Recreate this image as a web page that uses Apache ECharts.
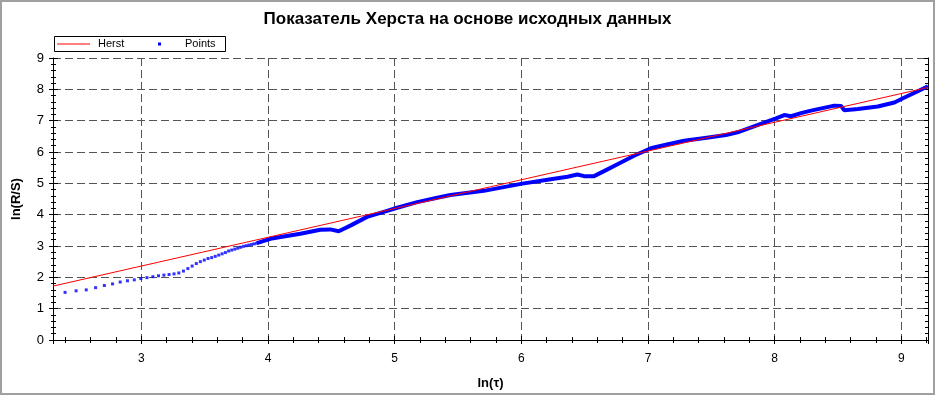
<!DOCTYPE html>
<html><head><meta charset="utf-8">
<script src="https://cdn.jsdelivr.net/npm/echarts@6/dist/echarts.min.js"></script>
<style>html,body{margin:0;padding:0;background:#fff}#c{width:935px;height:395px}</style>
</head><body><div id="c"></div>
<script>
const titleText = 'Показатель Херста на основе исходных данных';
const xName = 'ln(τ)';
const yName = 'ln(R/S)';
const legendNames = ['Herst', 'Points'];
const xMin = 2.3026, xMax = 9.2103;
const yMin = 0, yMax = 9;

// Herst regression line (ln τ, ln R/S)
const herstX = [2.3026, 9.2103];
const herstY = [1.72, 8.06];

// individual visible points (τ and ln(R/S))
const pointTau = [11,12,13,14,15,16,17,18,19,20,21,22,23,24,25,26,27,28,29,30,
                  31,32,33,34,35,36,37,38,39,40,41,42,43,44,45,46,47,48,49,50];
const pointVal = [1.52,1.57,1.60,1.67,1.74,1.79,1.85,1.89,1.92,1.96,1.99,2.02,2.05,2.07,2.09,2.11,2.14,2.20,2.28,2.36,
                  2.44,2.50,2.55,2.60,2.63,2.67,2.71,2.75,2.79,2.84,2.87,2.90,2.93,2.96,2.99,3.01,3.03,3.05,3.07,3.09];

// dense part of the points where they merge into a band (ln τ, ln R/S)
const bandLn  = [3.912,4.018,4.10,4.255,4.413,4.492,4.558,4.650,4.782,4.914,5.020,5.178,5.336,5.441,5.704,5.85,6.008,6.232,6.364,6.443,6.495,6.574,6.653,6.759,6.890,7.022,7.15,7.285,7.45,7.615,7.707,8.010,8.076,8.129,8.208,8.287,8.471,8.524,8.550,8.656,8.814,8.945,9.025,9.130,9.210];
const bandVal = [3.09,3.23,3.29,3.39,3.52,3.53,3.47,3.65,3.93,4.09,4.22,4.40,4.54,4.63,4.76,4.87,4.99,5.13,5.21,5.28,5.23,5.23,5.39,5.61,5.88,6.12,6.24,6.36,6.45,6.54,6.63,7.07,7.18,7.14,7.24,7.32,7.48,7.47,7.33,7.37,7.45,7.58,7.74,7.94,8.10];

const FONT = '"Liberation Sans", Arial, sans-serif';
const RED = '#ff0000', BLUE = '#0000ff';
const herstData = herstX.map((x, i) => [x, herstY[i]]);
const pointData = pointTau.map((t, i) => [Math.log(t), pointVal[i]]);
const bandData = bandLn.map((x, i) => [x, bandVal[i]]);
const intLabel = v => (Math.abs(v - Math.round(v)) < 1e-6 ? String(Math.round(v)) : '');

const gridRect = { left: 53, right: 7, top: 58, bottom: 55 };
const split = { show: true, lineStyle: { color: '#555', type: [8, 4], width: 1 } };
const legendText = { fontFamily: FONT, fontSize: 11, fill: '#000', verticalAlign: 'middle' };

const chart = echarts.init(document.getElementById('c'), null, { renderer: 'canvas' });
chart.setOption({
  animation: false,
  backgroundColor: '#fff',
  title: { text: titleText, left: 'center', top: 6,
    textStyle: { fontFamily: FONT, fontSize: 17, fontWeight: 'bold', color: '#000' } },
  grid: [
    Object.assign({ containLabel: false }, gridRect),
    Object.assign({ containLabel: false }, gridRect)
  ],
  xAxis: [
    { type: 'value', gridIndex: 0, position: 'bottom', min: xMin, max: xMax,
      name: xName, nameLocation: 'middle', nameGap: 37,
      nameTextStyle: { fontFamily: FONT, fontSize: 13, fontWeight: 'bold', color: '#000' },
      axisLine: { show: true, lineStyle: { color: '#000', width: 1 } },
      axisTick: { show: true, inside: false, length: 4, lineStyle: { color: '#000' } },
      minorTick: { show: true, splitNumber: 5, length: 2, lineStyle: { color: '#000' } },
      axisLabel: { show: true, margin: 13, fontFamily: FONT, fontSize: 12, color: '#000', formatter: intLabel },
      splitLine: split, minorSplitLine: { show: false } },
    { type: 'value', gridIndex: 0, position: 'top', min: xMin, max: xMax,
      axisLine: { show: true, lineStyle: { color: '#000', width: 1 } },
      axisTick: { show: true, inside: true, length: 4, lineStyle: { color: '#000' } },
      minorTick: { show: true, splitNumber: 5, length: 3, lineStyle: { color: '#000' } },
      axisLabel: { show: false }, splitLine: { show: false } },
    { type: 'value', gridIndex: 1, position: 'bottom', min: xMin, max: xMax,
      axisLine: { show: false },
      axisTick: { show: true, inside: true, length: 4, lineStyle: { color: '#000' } },
      minorTick: { show: true, splitNumber: 5, length: 3, lineStyle: { color: '#000' } },
      axisLabel: { show: false }, splitLine: { show: false } }
  ],
  yAxis: [
    { type: 'value', gridIndex: 0, position: 'left', min: yMin, max: yMax, interval: 1,
      name: yName, nameLocation: 'middle', nameGap: 30,
      nameTextStyle: { fontFamily: FONT, fontSize: 13, fontWeight: 'bold', color: '#000' },
      axisLine: { show: true, lineStyle: { color: '#000', width: 1 } },
      axisTick: { show: true, inside: false, length: 4, lineStyle: { color: '#000' } },
      minorTick: { show: true, splitNumber: 5, length: 2, lineStyle: { color: '#000' } },
      axisLabel: { show: true, margin: 9, fontFamily: FONT, fontSize: 13, color: '#000' },
      splitLine: split },
    { type: 'value', gridIndex: 0, position: 'right', min: yMin, max: yMax, interval: 1,
      axisLine: { show: true, lineStyle: { color: '#000', width: 1 } },
      axisTick: { show: true, inside: true, length: 4, lineStyle: { color: '#000' } },
      minorTick: { show: true, splitNumber: 5, length: 3, lineStyle: { color: '#000' } },
      axisLabel: { show: false }, splitLine: { show: false } },
    { type: 'value', gridIndex: 1, position: 'left', min: yMin, max: yMax, interval: 1,
      axisLine: { show: false },
      axisTick: { show: true, inside: true, length: 5, lineStyle: { color: '#000' } },
      minorTick: { show: true, splitNumber: 5, length: 3, lineStyle: { color: '#000' } },
      axisLabel: { show: false }, splitLine: { show: false } }
  ],
  series: [
    { name: 'Points', type: 'scatter', xAxisIndex: 0, yAxisIndex: 0, data: pointData,
      symbol: 'rect', symbolSize: 3, itemStyle: { color: BLUE }, z: 2 },
    { name: 'PointsBand', type: 'line', xAxisIndex: 0, yAxisIndex: 0, data: bandData,
      showSymbol: false, symbol: 'none', lineStyle: { color: BLUE, width: 4 }, z: 2 },
    { name: 'Herst', type: 'line', xAxisIndex: 0, yAxisIndex: 0, data: herstData,
      showSymbol: false, symbol: 'none', lineStyle: { color: RED, width: 1 },
      itemStyle: { color: RED }, z: 3 }
  ],
  graphic: [
    { type: 'rect', shape: { x: 1, y: 1, width: 933, height: 393 },
      style: { fill: 'none', stroke: '#a0a0a0', lineWidth: 2 }, silent: true },
    { type: 'group', left: 54, top: 36, silent: true, children: [
      { type: 'rect', shape: { x: 0.5, y: 0.5, width: 171, height: 15 },
        style: { fill: '#fff', stroke: '#000', lineWidth: 1 } },
      { type: 'line', shape: { x1: 3, y1: 8, x2: 36, y2: 8 }, style: { stroke: RED, lineWidth: 1 } },
      { type: 'text', x: 44, y: 8, style: Object.assign({ text: legendNames[0] }, legendText) },
      { type: 'rect', shape: { x: 104, y: 6.5, width: 3, height: 3 }, style: { fill: BLUE } },
      { type: 'text', x: 131, y: 8, style: Object.assign({ text: legendNames[1] }, legendText) }
    ] }
  ]
});
</script></body></html>
